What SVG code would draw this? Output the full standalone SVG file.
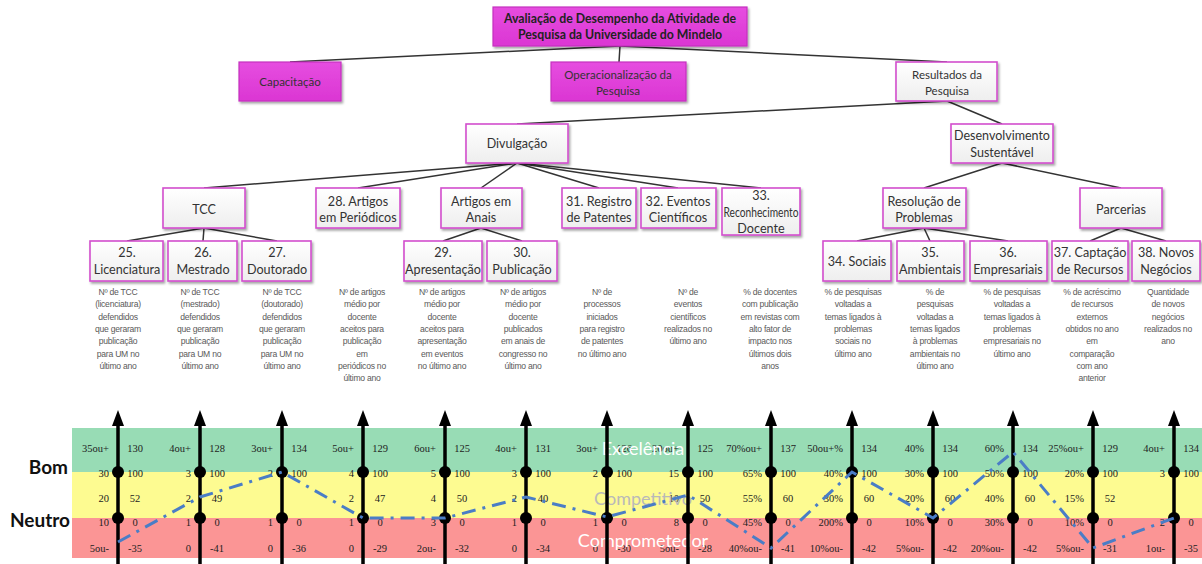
<svg xmlns="http://www.w3.org/2000/svg" width="1202" height="564" viewBox="0 0 1202 564">
  <defs>
    <linearGradient id="boxFill" x1="0" y1="0" x2="0" y2="1">
      <stop offset="0" stop-color="#ffffff"/>
      <stop offset="1" stop-color="#eeeeee"/>
    </linearGradient>
    <linearGradient id="magFill" x1="0" y1="0" x2="0" y2="1">
      <stop offset="0" stop-color="#e64de0"/>
      <stop offset="1" stop-color="#db36d3"/>
    </linearGradient>
    <filter id="shadow" x="-10%" y="-10%" width="125%" height="135%">
      <feDropShadow dx="1.5" dy="2" stdDeviation="1.2" flood-color="#000" flood-opacity="0.35"/>
    </filter>
  </defs>
  <style>
    .box { fill: url(#boxFill); stroke: #d24ecd; stroke-width: 1.6; filter: url(#shadow); }
    .mag { fill: url(#magFill); stroke: #c530bf; stroke-width: 1.2; filter: url(#shadow); }
    .t { font-family: Lato, "Open Sans", sans-serif; fill: #333; text-anchor: middle; }
    .s1 { font-size: 11.5px; }
    .s2 { font-size: 12.5px; }
    .s3 { font-size: 12.6px; }
    .b { font-weight: bold; fill: #222; font-size: 12.3px; }
    .conn line { stroke: #333; stroke-width: 1.5; }
    .d { font-family: "Liberation Sans", Arial, sans-serif; font-size: 8.6px; fill: #5a5a5a; text-anchor: middle; letter-spacing: -0.25px; }
    .v { font-family: "Liberation Serif", "Times New Roman", serif; font-size: 10.5px; fill: #222; }
    .vl { text-anchor: end; }
    .vr { text-anchor: middle; }
    .axis line { stroke: #000; stroke-width: 3.5; }
    .axis polygon, .axis circle { fill: #000; }
    .band { font-family: Lato, "Open Sans", sans-serif; font-size: 18px; text-anchor: middle; }
    .lvl { font-family: Lato, "Open Sans", sans-serif; font-size: 19px; font-weight: bold; fill: #111; text-anchor: end; }
    .trend { fill: none; stroke: #4a7dc6; stroke-width: 3; stroke-dasharray: 14 7 3 7; }
  </style>

  <rect width="1202" height="564" fill="#ffffff"/>

  <!-- tree connectors -->
  <g id="connectors" class="conn">
    <line x1="620" y1="46" x2="290" y2="62"/>
    <line x1="620" y1="46" x2="619" y2="62"/>
    <line x1="620" y1="46" x2="947" y2="62"/>
    <line x1="947" y1="101" x2="517" y2="124"/>
    <line x1="947" y1="101" x2="1002" y2="124"/>
    <line x1="517" y1="163" x2="204" y2="188"/>
    <line x1="517" y1="163" x2="358" y2="188"/>
    <line x1="517" y1="163" x2="481" y2="188"/>
    <line x1="517" y1="163" x2="599" y2="188"/>
    <line x1="517" y1="163" x2="678" y2="188"/>
    <line x1="517" y1="163" x2="761" y2="188"/>
    <line x1="1002" y1="163" x2="924" y2="188"/>
    <line x1="1002" y1="163" x2="1121" y2="188"/>
    <line x1="204" y1="228" x2="127" y2="241"/>
    <line x1="204" y1="228" x2="203" y2="241"/>
    <line x1="204" y1="228" x2="277" y2="241"/>
    <line x1="481" y1="228" x2="443" y2="241"/>
    <line x1="481" y1="228" x2="522" y2="241"/>
    <line x1="924" y1="228" x2="857" y2="241"/>
    <line x1="924" y1="228" x2="930" y2="241"/>
    <line x1="924" y1="228" x2="1008" y2="241"/>
    <line x1="1121" y1="228" x2="1090" y2="241"/>
    <line x1="1121" y1="228" x2="1166" y2="241"/>
  </g>

  <!-- top levels -->
  <g id="n-root">
    <rect class="mag" x="493" y="7" width="254" height="39"/>
    <text class="t b" x="620" y="23">Avaliação de Desempenho da Atividade de</text>
    <text class="t b" x="620" y="39">Pesquisa da Universidade do Mindelo</text>
  </g>
  <g id="n-capacitacao">
    <rect class="mag" x="239" y="62" width="102" height="39"/>
    <text class="t s1" x="290" y="86">Capacitação</text>
  </g>
  <g id="n-operacionalizacao">
    <rect class="mag" x="551" y="62" width="135" height="39"/>
    <text class="t s1" x="618" y="79">Operacionalização da</text>
    <text class="t s1" x="618" y="95">Pesquisa</text>
  </g>
  <g id="n-resultados">
    <rect class="box" x="896" y="62" width="101" height="39"/>
    <text class="t s1" x="947" y="79">Resultados da</text>
    <text class="t s1" x="947" y="95">Pesquisa</text>
  </g>
  <g id="n-divulgacao">
    <rect class="box" x="466" y="124" width="102" height="39"/>
    <text class="t s2" x="517" y="148">Divulgação</text>
  </g>
  <g id="n-desenvolvimento">
    <rect class="box" x="951" y="124" width="102" height="39"/>
    <text class="t s2" x="1002" y="140">Desenvolvimento</text>
    <text class="t s2" x="1002" y="157">Sustentável</text>
  </g>

  <!-- third level -->
  <g id="n-tcc">
    <rect class="box" x="163" y="188" width="82" height="40"/>
    <text class="t s3" x="204" y="214">TCC</text>
  </g>
  <g id="n-28">
    <rect class="box" x="316" y="188" width="84" height="40"/>
    <text class="t s3" x="358" y="206">28. Artigos</text>
    <text class="t s3" x="358" y="222">em Periódicos</text>
  </g>
  <g id="n-anais">
    <rect class="box" x="441" y="188" width="81" height="40"/>
    <text class="t s3" x="481" y="206">Artigos em</text>
    <text class="t s3" x="481" y="222">Anais</text>
  </g>
  <g id="n-31">
    <rect class="box" x="562" y="188" width="74" height="40"/>
    <text class="t s3" x="599" y="206">31. Registro</text>
    <text class="t s3" x="599" y="222">de Patentes</text>
  </g>
  <g id="n-32">
    <rect class="box" x="641" y="188" width="75" height="40"/>
    <text class="t s3" x="678" y="206">32. Eventos</text>
    <text class="t s3" x="678" y="222">Científicos</text>
  </g>
  <g id="n-33">
    <rect class="box" x="722" y="188" width="78" height="47"/>
    <text class="t s3" x="761" y="200">33.</text>
    <text class="t s3" x="761" y="217" textLength="75" lengthAdjust="spacingAndGlyphs">Reconhecimento</text>
    <text class="t s3" x="761" y="233">Docente</text>
  </g>
  <g id="n-resolucao">
    <rect class="box" x="883" y="188" width="83" height="40"/>
    <text class="t s3" x="924" y="206">Resolução de</text>
    <text class="t s3" x="924" y="222">Problemas</text>
  </g>
  <g id="n-parcerias">
    <rect class="box" x="1080" y="188" width="82" height="40"/>
    <text class="t s3" x="1121" y="214">Parcerias</text>
  </g>

  <!-- fourth level -->
  <g id="n-25">
    <rect class="box" x="90" y="241" width="73" height="40"/>
    <text class="t s3" x="127" y="257">25.</text>
    <text class="t s3" x="127" y="274">Licenciatura</text>
  </g>
  <g id="n-26">
    <rect class="box" x="168" y="241" width="69" height="40"/>
    <text class="t s3" x="203" y="257">26.</text>
    <text class="t s3" x="203" y="274">Mestrado</text>
  </g>
  <g id="n-27">
    <rect class="box" x="242" y="241" width="69" height="40"/>
    <text class="t s3" x="277" y="257">27.</text>
    <text class="t s3" x="277" y="274">Doutorado</text>
  </g>
  <g id="n-29">
    <rect class="box" x="404" y="241" width="78" height="40"/>
    <text class="t s3" x="443" y="257">29.</text>
    <text class="t s3" x="443" y="274">Apresentação</text>
  </g>
  <g id="n-30">
    <rect class="box" x="487" y="241" width="70" height="40"/>
    <text class="t s3" x="522" y="257">30.</text>
    <text class="t s3" x="522" y="274">Publicação</text>
  </g>
  <g id="n-34">
    <rect class="box" x="823" y="241" width="68" height="40"/>
    <text class="t s3" x="857" y="266">34. Sociais</text>
  </g>
  <g id="n-35">
    <rect class="box" x="897" y="241" width="67" height="40"/>
    <text class="t s3" x="930" y="257">35.</text>
    <text class="t s3" x="930" y="274">Ambientais</text>
  </g>
  <g id="n-36">
    <rect class="box" x="970" y="241" width="77" height="40"/>
    <text class="t s3" x="1008" y="257">36.</text>
    <text class="t s3" x="1008" y="274">Empresariais</text>
  </g>
  <g id="n-37">
    <rect class="box" x="1052" y="241" width="76" height="40"/>
    <text class="t s3" x="1090" y="257">37. Captação</text>
    <text class="t s3" x="1090" y="274">de Recursos</text>
  </g>
  <g id="n-38">
    <rect class="box" x="1132" y="241" width="68" height="40"/>
    <text class="t s3" x="1166" y="257">38. Novos</text>
    <text class="t s3" x="1166" y="274">Negócios</text>
  </g>

  <!-- indicator descriptions -->
  <g id="descriptions">
    <text class="d" y="295"><tspan x="118">Nº de TCC</tspan><tspan x="118" dy="12.3">(licenciatura)</tspan><tspan x="118" dy="12.3">defendidos</tspan><tspan x="118" dy="12.3">que geraram</tspan><tspan x="118" dy="12.3">publicação</tspan><tspan x="118" dy="12.3">para UM no</tspan><tspan x="118" dy="12.3">último ano</tspan></text>
    <text class="d" y="295"><tspan x="200">Nº de TCC</tspan><tspan x="200" dy="12.3">(mestrado)</tspan><tspan x="200" dy="12.3">defendidos</tspan><tspan x="200" dy="12.3">que geraram</tspan><tspan x="200" dy="12.3">publicação</tspan><tspan x="200" dy="12.3">para UM no</tspan><tspan x="200" dy="12.3">último ano</tspan></text>
    <text class="d" y="295"><tspan x="282">Nº de TCC</tspan><tspan x="282" dy="12.3">(doutorado)</tspan><tspan x="282" dy="12.3">defendidos</tspan><tspan x="282" dy="12.3">que geraram</tspan><tspan x="282" dy="12.3">publicação</tspan><tspan x="282" dy="12.3">para UM no</tspan><tspan x="282" dy="12.3">último ano</tspan></text>
    <text class="d" y="295"><tspan x="362">Nº de artigos</tspan><tspan x="362" dy="12.3">médio por</tspan><tspan x="362" dy="12.3">docente</tspan><tspan x="362" dy="12.3">aceitos para</tspan><tspan x="362" dy="12.3">publicação</tspan><tspan x="362" dy="12.3">em</tspan><tspan x="362" dy="12.3">periódicos no</tspan><tspan x="362" dy="12.3">último ano</tspan></text>
    <text class="d" y="295"><tspan x="442">Nº de artigos</tspan><tspan x="442" dy="12.3">médio por</tspan><tspan x="442" dy="12.3">docente</tspan><tspan x="442" dy="12.3">aceitos para</tspan><tspan x="442" dy="12.3">apresentação</tspan><tspan x="442" dy="12.3">em eventos</tspan><tspan x="442" dy="12.3">no último ano</tspan></text>
    <text class="d" y="295"><tspan x="523">Nº de artigos</tspan><tspan x="523" dy="12.3">médio por</tspan><tspan x="523" dy="12.3">docente</tspan><tspan x="523" dy="12.3">publicados</tspan><tspan x="523" dy="12.3">em anais de</tspan><tspan x="523" dy="12.3">congresso no</tspan><tspan x="523" dy="12.3">último ano</tspan></text>
    <text class="d" y="295"><tspan x="602">Nº de</tspan><tspan x="602" dy="12.3">processos</tspan><tspan x="602" dy="12.3">iniciados</tspan><tspan x="602" dy="12.3">para registro</tspan><tspan x="602" dy="12.3">de patentes</tspan><tspan x="602" dy="12.3">no último ano</tspan></text>
    <text class="d" y="295"><tspan x="688">Nº de</tspan><tspan x="688" dy="12.3">eventos</tspan><tspan x="688" dy="12.3">científicos</tspan><tspan x="688" dy="12.3">realizados no</tspan><tspan x="688" dy="12.3">último ano</tspan></text>
    <text class="d" y="295"><tspan x="770">% de docentes</tspan><tspan x="770" dy="12.3">com publicação</tspan><tspan x="770" dy="12.3">em revistas com</tspan><tspan x="770" dy="12.3">alto fator de</tspan><tspan x="770" dy="12.3">impacto nos</tspan><tspan x="770" dy="12.3">últimos dois</tspan><tspan x="770" dy="12.3">anos</tspan></text>
    <text class="d" y="295"><tspan x="853">% de pesquisas</tspan><tspan x="853" dy="12.3">voltadas a</tspan><tspan x="853" dy="12.3">temas ligados à</tspan><tspan x="853" dy="12.3">problemas</tspan><tspan x="853" dy="12.3">sociais no</tspan><tspan x="853" dy="12.3">último ano</tspan></text>
    <text class="d" y="295"><tspan x="935">% de</tspan><tspan x="935" dy="12.3">pesquisas</tspan><tspan x="935" dy="12.3">voltadas a</tspan><tspan x="935" dy="12.3">temas ligados</tspan><tspan x="935" dy="12.3">à problemas</tspan><tspan x="935" dy="12.3">ambientais no</tspan><tspan x="935" dy="12.3">último ano</tspan></text>
    <text class="d" y="295"><tspan x="1012">% de pesquisas</tspan><tspan x="1012" dy="12.3">voltadas a</tspan><tspan x="1012" dy="12.3">temas ligados à</tspan><tspan x="1012" dy="12.3">problemas</tspan><tspan x="1012" dy="12.3">empresariais no</tspan><tspan x="1012" dy="12.3">último ano</tspan></text>
    <text class="d" y="295"><tspan x="1092">% de acréscimo</tspan><tspan x="1092" dy="12.3">de recursos</tspan><tspan x="1092" dy="12.3">externos</tspan><tspan x="1092" dy="12.3">obtidos no ano</tspan><tspan x="1092" dy="12.3">em</tspan><tspan x="1092" dy="12.3">comparação</tspan><tspan x="1092" dy="12.3">com ano</tspan><tspan x="1092" dy="12.3">anterior</tspan></text>
    <text class="d" y="295"><tspan x="1168">Quantidade</tspan><tspan x="1168" dy="12.3">de novos</tspan><tspan x="1168" dy="12.3">negócios</tspan><tspan x="1168" dy="12.3">realizados no</tspan><tspan x="1168" dy="12.3">ano</tspan></text>
  </g>

  <!-- performance bands -->
  <g id="bands">
    <rect x="72" y="428" width="1130" height="44" fill="#98dcb5"/>
    <rect x="72" y="472" width="1130" height="46" fill="#fdfb91"/>
    <rect x="72" y="518" width="1130" height="40" fill="#fb9595"/>
  </g>
  <text class="lvl" x="68" y="474">Bom</text>
  <text class="lvl" x="70" y="527">Neutro</text>

  <!-- scale values: left = indicator threshold, right = score -->
  <g id="values" class="v">
    <text class="vl" x="109" y="452">35ou+</text><text class="vl" x="109" y="477">30</text><text class="vl" x="109" y="502">20</text><text class="vl" x="109" y="526">10</text><text class="vl" x="109" y="552">5ou-</text>
    <text class="vr" x="135" y="452">130</text><text class="vr" x="135" y="477">100</text><text class="vr" x="135" y="502">52</text><text class="vr" x="135" y="526">0</text><text class="vr" x="135" y="552">-35</text>

    <text class="vl" x="191" y="452">4ou+</text><text class="vl" x="191" y="477">3</text><text class="vl" x="191" y="502">2</text><text class="vl" x="191" y="526">1</text><text class="vl" x="191" y="552">0</text>
    <text class="vr" x="217" y="452">128</text><text class="vr" x="217" y="477">100</text><text class="vr" x="217" y="502">49</text><text class="vr" x="217" y="526">0</text><text class="vr" x="217" y="552">-41</text>

    <text class="vl" x="273" y="452">3ou+</text><text class="vl" x="273" y="477">2</text><text class="vl" x="273" y="526">1</text><text class="vl" x="273" y="552">0</text>
    <text class="vr" x="299" y="452">134</text><text class="vr" x="299" y="477">100</text><text class="vr" x="299" y="526">0</text><text class="vr" x="299" y="552">-36</text>

    <text class="vl" x="354" y="452">5ou+</text><text class="vl" x="354" y="477">4</text><text class="vl" x="354" y="502">2</text><text class="vl" x="354" y="526">1</text><text class="vl" x="354" y="552">0</text>
    <text class="vr" x="380" y="452">129</text><text class="vr" x="380" y="477">100</text><text class="vr" x="380" y="502">47</text><text class="vr" x="380" y="526">0</text><text class="vr" x="380" y="552">-29</text>

    <text class="vl" x="436" y="452">6ou+</text><text class="vl" x="436" y="477">5</text><text class="vl" x="436" y="502">4</text><text class="vl" x="436" y="526">3</text><text class="vl" x="436" y="552">2ou-</text>
    <text class="vr" x="462" y="452">125</text><text class="vr" x="462" y="477">100</text><text class="vr" x="462" y="502">50</text><text class="vr" x="462" y="526">0</text><text class="vr" x="462" y="552">-32</text>

    <text class="vl" x="517" y="452">4ou+</text><text class="vl" x="517" y="477">3</text><text class="vl" x="517" y="502">2</text><text class="vl" x="517" y="526">1</text><text class="vl" x="517" y="552">0</text>
    <text class="vr" x="543" y="452">131</text><text class="vr" x="543" y="477">100</text><text class="vr" x="543" y="502">40</text><text class="vr" x="543" y="526">0</text><text class="vr" x="543" y="552">-34</text>

    <text class="vl" x="598" y="452">3ou+</text><text class="vl" x="598" y="477">2</text><text class="vl" x="598" y="526">1</text><text class="vl" x="598" y="552">0</text>
    <text class="vr" x="624" y="452">126</text><text class="vr" x="624" y="477">100</text><text class="vr" x="624" y="526">0</text><text class="vr" x="624" y="552">-30</text>

    <text class="vl" x="679" y="452">20ou+</text><text class="vl" x="679" y="477">15</text><text class="vl" x="679" y="502">10</text><text class="vl" x="679" y="526">8</text><text class="vl" x="679" y="552">5ou-</text>
    <text class="vr" x="705" y="452">125</text><text class="vr" x="705" y="477">100</text><text class="vr" x="705" y="502">50</text><text class="vr" x="705" y="526">0</text><text class="vr" x="705" y="552">-28</text>

    <text class="vl" x="762" y="452">70%ou+</text><text class="vl" x="762" y="477">65%</text><text class="vl" x="762" y="502">55%</text><text class="vl" x="762" y="526">45%</text><text class="vl" x="762" y="552">40%ou-</text>
    <text class="vr" x="788" y="452">137</text><text class="vr" x="788" y="477">100</text><text class="vr" x="788" y="502">60</text><text class="vr" x="788" y="526">0</text><text class="vr" x="788" y="552">-41</text>

    <text class="vl" x="843" y="452">50ou+%</text><text class="vl" x="843" y="477">40%</text><text class="vl" x="843" y="502">30%</text><text class="vl" x="843" y="526">200%</text><text class="vl" x="843" y="552">10%ou-</text>
    <text class="vr" x="869" y="452">134</text><text class="vr" x="869" y="477">100</text><text class="vr" x="869" y="502">60</text><text class="vr" x="869" y="526">0</text><text class="vr" x="869" y="552">-42</text>

    <text class="vl" x="924" y="452">40%</text><text class="vl" x="924" y="477">30%</text><text class="vl" x="924" y="502">20%</text><text class="vl" x="924" y="526">10%</text><text class="vl" x="924" y="552">5%ou-</text>
    <text class="vr" x="950" y="452">134</text><text class="vr" x="950" y="477">100</text><text class="vr" x="950" y="502">60</text><text class="vr" x="950" y="526">0</text><text class="vr" x="950" y="552">-42</text>

    <text class="vl" x="1004" y="452">60%</text><text class="vl" x="1004" y="477">50%</text><text class="vl" x="1004" y="502">40%</text><text class="vl" x="1004" y="526">30%</text><text class="vl" x="1004" y="552">20%ou-</text>
    <text class="vr" x="1030" y="452">134</text><text class="vr" x="1030" y="477">100</text><text class="vr" x="1030" y="502">60</text><text class="vr" x="1030" y="526">0</text><text class="vr" x="1030" y="552">-42</text>

    <text class="vl" x="1084" y="452">25%ou+</text><text class="vl" x="1084" y="477">20%</text><text class="vl" x="1084" y="502">15%</text><text class="vl" x="1084" y="526">10%</text><text class="vl" x="1084" y="552">5%ou-</text>
    <text class="vr" x="1110" y="452">129</text><text class="vr" x="1110" y="477">100</text><text class="vr" x="1110" y="502">52</text><text class="vr" x="1110" y="526">0</text><text class="vr" x="1110" y="552">-31</text>

    <text class="vl" x="1165" y="452">4ou+</text><text class="vl" x="1165" y="477">3</text><text class="vl" x="1165" y="526">2</text><text class="vl" x="1165" y="552">1ou-</text>
    <text class="vr" x="1191" y="452">134</text><text class="vr" x="1191" y="477">100</text><text class="vr" x="1191" y="526">0</text><text class="vr" x="1191" y="552">-35</text>
  </g>

  <!-- band names -->
  <text class="band" x="643" y="455" fill="#ffffff">Excelência</text>
  <text class="band" x="643" y="505" fill="#b9b9b9">Competitivo</text>
  <text class="band" x="643" y="547" fill="#ffffff">Comprometedor</text>

  <!-- indicator axes -->
  <g id="axes" class="axis">
    <g><line x1="118" y1="420" x2="118" y2="564"/><polygon points="118,410 112,426 124,426"/><circle cx="118" cy="472" r="6"/><circle cx="118" cy="518" r="6"/></g>
    <g><line x1="200" y1="420" x2="200" y2="564"/><polygon points="200,410 194,426 206,426"/><circle cx="200" cy="472" r="6"/><circle cx="200" cy="518" r="6"/></g>
    <g><line x1="282" y1="420" x2="282" y2="564"/><polygon points="282,410 276,426 288,426"/><circle cx="282" cy="472" r="6"/><circle cx="282" cy="518" r="6"/></g>
    <g><line x1="363" y1="420" x2="363" y2="564"/><polygon points="363,410 357,426 369,426"/><circle cx="363" cy="472" r="6"/><circle cx="363" cy="518" r="6"/></g>
    <g><line x1="445" y1="420" x2="445" y2="564"/><polygon points="445,410 439,426 451,426"/><circle cx="445" cy="472" r="6"/><circle cx="445" cy="518" r="6"/></g>
    <g><line x1="526" y1="420" x2="526" y2="564"/><polygon points="526,410 520,426 532,426"/><circle cx="526" cy="472" r="6"/><circle cx="526" cy="518" r="6"/></g>
    <g><line x1="607" y1="420" x2="607" y2="564"/><polygon points="607,410 601,426 613,426"/><circle cx="607" cy="472" r="6"/><circle cx="607" cy="518" r="6"/></g>
    <g><line x1="688" y1="420" x2="688" y2="564"/><polygon points="688,410 682,426 694,426"/><circle cx="688" cy="472" r="6"/><circle cx="688" cy="518" r="6"/></g>
    <g><line x1="771" y1="420" x2="771" y2="564"/><polygon points="771,410 765,426 777,426"/><circle cx="771" cy="472" r="6"/><circle cx="771" cy="518" r="6"/></g>
    <g><line x1="852" y1="420" x2="852" y2="564"/><polygon points="852,410 846,426 858,426"/><circle cx="852" cy="472" r="6"/><circle cx="852" cy="518" r="6"/></g>
    <g><line x1="933" y1="420" x2="933" y2="564"/><polygon points="933,410 927,426 939,426"/><circle cx="933" cy="472" r="6"/><circle cx="933" cy="518" r="6"/></g>
    <g><line x1="1013" y1="420" x2="1013" y2="564"/><polygon points="1013,410 1007,426 1019,426"/><circle cx="1013" cy="472" r="6"/><circle cx="1013" cy="518" r="6"/></g>
    <g><line x1="1093" y1="420" x2="1093" y2="564"/><polygon points="1093,410 1087,426 1099,426"/><circle cx="1093" cy="472" r="6"/><circle cx="1093" cy="518" r="6"/></g>
    <g><line x1="1174" y1="420" x2="1174" y2="564"/><polygon points="1174,410 1168,426 1180,426"/><circle cx="1174" cy="472" r="6"/><circle cx="1174" cy="518" r="6"/></g>
  </g>

  <!-- measured profile -->
  <polyline class="trend" points="118,542 200,497 282,472 363,518 445,518 526,497 607,517 688,495 771,548 852,472 933,518 1013,452 1093,548 1174,518"/>
</svg>
